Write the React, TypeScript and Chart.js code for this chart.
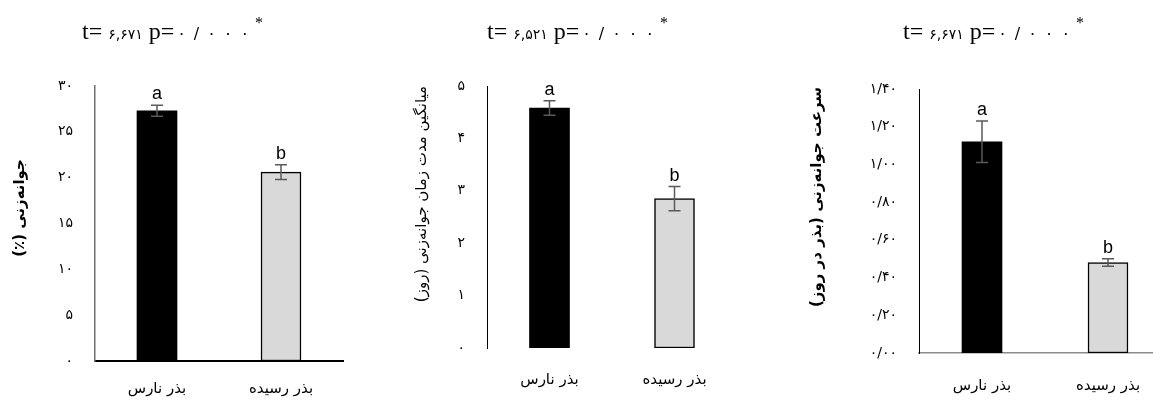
import { useEffect, useRef } from 'react';
import { Chart, registerables } from 'chart.js';

Chart.register(...registerables);

// Seed groups shown on every panel
const categories = ['بذر نارس', 'بذر رسیده'];
const sigLetters = ['a', 'b'];

// Germination percentage (%)
const germPercent = [27.3, 20.6];
const germPercentErr = [0.6, 0.8];

// Mean germination time (days)
const meanGermTime = [4.58, 2.85];
const meanGermTimeErr = [0.14, 0.23];

// Germination rate (seeds per day)
const germRate = [1.12, 0.48];
const germRateErr = [0.11, 0.02];

// t-test results per panel
const tStats = ['۶,۶۷۱', '۶,۵۲۱', '۶,۶۷۱'];
const pStat = '۰/۰۰۰';

// Axis titles and tick settings
const yTitles = [
  'جوانه\u200cزنی (٪)',
  'میانگین مدت زمان جوانه\u200cزنی (روز)',
  'سرعت جوانه\u200cزنی (بذر در روز)',
];
const yMax = [30, 5, 1.4];
const yStep = [5, 1, 0.2];
const yDecimals = [0, 0, 2];

const FA_DIGITS = '۰۱۲۳۴۵۶۷۸۹';
const toFa = (s: string) => s.replace(/\d/g, (d) => FA_DIGITS[Number(d)]);

const H = 402;
const FA_FONT = '"DejaVu Sans", sans-serif';
const SERIF = '"Liberation Serif", "Times New Roman", serif';

type Panel = {
  values: number[];
  errors: number[];
  max: number;
  step: number;
  decimals: number;
  tStat: string;
  yTitle: string;
  canvasLeft: number;
  width: number;
  area: { l: number; r: number; t: number; b: number };
  titleX: number;
  yTitleX: number;
  yTitleY: number;
  yTitleWeight: string;
  yBorder: { color: string; width: number };
  xBorder: { display: boolean; color: string; width: number };
  xTickPad: number;
};

const panels: Panel[] = [
  {
    values: germPercent,
    errors: germPercentErr,
    max: yMax[0],
    step: yStep[0],
    decimals: yDecimals[0],
    tStat: tStats[0],
    yTitle: yTitles[0],
    canvasLeft: 0,
    width: 384,
    area: { l: 95, r: 343, t: 86, b: 361 },
    titleX: 82,
    yTitleX: 20,
    yTitleY: 208,
    yTitleWeight: 'bold',
    yBorder: { color: '#6e6e6e', width: 1.5 },
    xBorder: { display: true, color: '#000000', width: 2 },
    xTickPad: 19,
  },
  {
    values: meanGermTime,
    errors: meanGermTimeErr,
    max: yMax[1],
    step: yStep[1],
    decimals: yDecimals[1],
    tStat: tStats[1],
    yTitle: yTitles[1],
    canvasLeft: 384,
    width: 384,
    area: { l: 103, r: 353, t: 86, b: 348 },
    titleX: 103,
    yTitleX: 38,
    yTitleY: 194,
    yTitleWeight: 'normal',
    yBorder: { color: '#000000', width: 1 },
    xBorder: { display: false, color: '#000000', width: 1 },
    xTickPad: 23,
  },
  {
    values: germRate,
    errors: germRateErr,
    max: yMax[2],
    step: yStep[2],
    decimals: yDecimals[2],
    tStat: tStats[2],
    yTitle: yTitles[2],
    canvasLeft: 768,
    width: 410,
    area: { l: 151, r: 403, t: 89, b: 353 },
    titleX: 135,
    yTitleX: 49,
    yTitleY: 197,
    yTitleWeight: 'bold',
    yBorder: { color: '#000000', width: 1 },
    xBorder: { display: true, color: '#8c8c8c', width: 1.5 },
    xTickPad: 24,
  },
];

function makeDecorPlugin(p: Panel) {
  return {
    id: 'decor',
    afterDatasetsDraw(chart: any) {
      const ctx: CanvasRenderingContext2D = chart.ctx;
      const yScale = chart.scales.y;
      const meta = chart.getDatasetMeta(0);
      ctx.save();
      // error bars
      ctx.strokeStyle = '#5a5a5a';
      ctx.lineWidth = 1.5;
      meta.data.forEach((bar: any, i: number) => {
        const x = bar.x;
        const yTop = yScale.getPixelForValue(p.values[i] + p.errors[i]);
        const yBot = yScale.getPixelForValue(p.values[i] - p.errors[i]);
        ctx.beginPath();
        ctx.moveTo(x, yTop);
        ctx.lineTo(x, yBot);
        ctx.moveTo(x - 6, yTop);
        ctx.lineTo(x + 6, yTop);
        ctx.moveTo(x - 6, yBot);
        ctx.lineTo(x + 6, yBot);
        ctx.stroke();
        // significance letters
        ctx.fillStyle = '#000000';
        ctx.font = '18px "Liberation Sans", Arial, sans-serif';
        ctx.textAlign = 'center';
        ctx.textBaseline = 'alphabetic';
        ctx.fillText(sigLetters[i], x, yTop - 6);
      });
      ctx.restore();
    },
    afterDraw(chart: any) {
      const ctx: CanvasRenderingContext2D = chart.ctx;
      ctx.save();
      // rotated y-axis title
      ctx.translate(p.yTitleX, p.yTitleY);
      ctx.rotate(-Math.PI / 2);
      ctx.direction = 'rtl';
      ctx.textAlign = 'center';
      ctx.textBaseline = 'middle';
      ctx.fillStyle = '#000000';
      ctx.font = `${p.yTitleWeight} 15px ${FA_FONT}`;
      ctx.fillText(p.yTitle, 0, 0);
      ctx.restore();

      // t-test heading
      ctx.save();
      ctx.direction = 'ltr';
      ctx.textAlign = 'left';
      ctx.textBaseline = 'alphabetic';
      ctx.fillStyle = '#000000';
      const base = 39;
      let x = p.titleX;
      const seg = (text: string, font: string) => {
        ctx.font = font;
        ctx.fillText(text, x, base);
        x += ctx.measureText(text).width;
      };
      seg('t= ', `24px ${SERIF}`);
      seg(p.tStat, `14px ${FA_FONT}`);
      seg(' p=', `24px ${SERIF}`);
      // p-value characters are set with generous tracking
      ctx.font = `16px ${FA_FONT}`;
      x += 3;
      for (const ch of Array.from(pStat)) {
        ctx.fillText(ch, x, base);
        x += ctx.measureText(ch).width + 8;
      }
      ctx.font = `16px ${SERIF}`;
      ctx.fillText('*', x - 2, base - 11);
      ctx.restore();
    },
  };
}

function PanelChart({ p }: { p: Panel }) {
  const ref = useRef<HTMLCanvasElement | null>(null);
  useEffect(() => {
    if (!ref.current) return;
    const chart = new Chart(ref.current, {
      type: 'bar',
      data: {
        labels: categories,
        datasets: [
          {
            data: p.values,
            backgroundColor: ['#000000', '#d9d9d9'],
            borderColor: ['#000000', '#000000'],
            borderWidth: [0, 1.5],
            borderSkipped: false,
            barThickness: 40,
          } as any,
        ],
      },
      options: {
        animation: false,
        responsive: false,
        maintainAspectRatio: false,
        layout: {
          padding: { top: p.area.t, right: p.width - p.area.r, left: 0, bottom: 0 },
        },
        plugins: {
          legend: { display: false },
          tooltip: { enabled: false },
          title: { display: false },
        },
        scales: {
          x: {
            type: 'category',
            grid: { display: false, drawTicks: false },
            border: { display: p.xBorder.display, color: p.xBorder.color, width: p.xBorder.width },
            ticks: { padding: p.xTickPad, color: '#000000', font: { family: FA_FONT, size: 15 } },
            afterFit: (s: any) => {
              s.height = H - p.area.b;
            },
          },
          y: {
            min: 0,
            max: p.max,
            grid: { display: false, drawTicks: false },
            border: { display: true, color: p.yBorder.color, width: p.yBorder.width },
            ticks: {
              stepSize: p.step,
              padding: 22,
              color: '#000000',
              font: { family: FA_FONT, size: 14 },
              callback: (v: any) => toFa(Number(v).toFixed(p.decimals)).replace('.', '/'),
            },
            afterFit: (s: any) => {
              s.width = p.area.l;
            },
          },
        } as any,
      },
      plugins: [makeDecorPlugin(p)],
    });
    return () => chart.destroy();
  }, [p]);
  return (
    <canvas
      ref={ref}
      width={p.width}
      height={H}
      style={{ position: 'absolute', left: p.canvasLeft, top: 0, width: p.width, height: H }}
    />
  );
}

export default function App() {
  return (
    <div
      style={{
        position: 'fixed',
        left: 0,
        top: 0,
        width: 1153,
        height: H,
        overflow: 'hidden',
        background: '#ffffff',
      }}
    >
      {panels.map((p, i) => (
        <PanelChart key={i} p={p} />
      ))}
    </div>
  );
}
